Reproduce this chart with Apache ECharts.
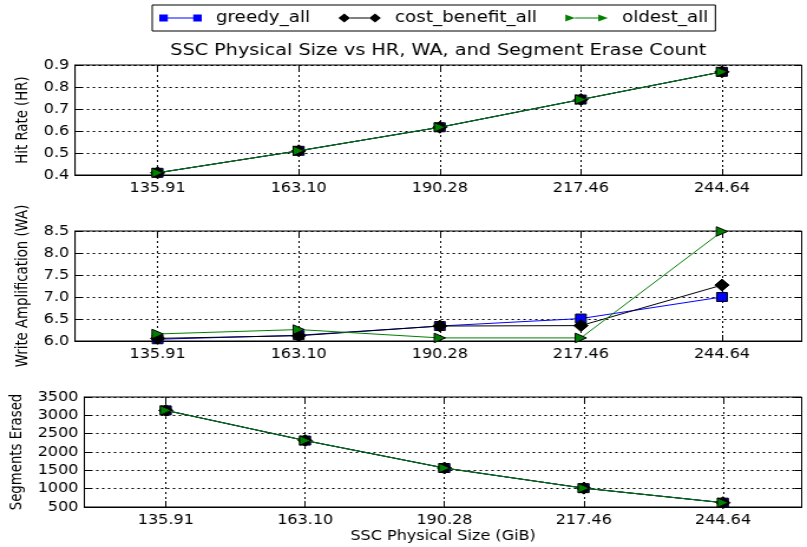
<!DOCTYPE html>
<html>
<head>
<meta charset="utf-8">
<script src="https://cdn.jsdelivr.net/npm/echarts@6/dist/echarts.min.js"></script>
<style>
  html, body { margin: 0; padding: 0; background: #fff; overflow: hidden; }
  /* the figure is laid out on a narrower canvas and widened horizontally */
  #chart { width: 684px; height: 547px; transform: scaleX(1.17982); transform-origin: 0 0; }
</style>
</head>
<body>
<div id="chart"></div>
<script>
// SSC physical sizes (GiB) on the shared x axis
const sizes = [135.91, 163.10, 190.28, 217.46, 244.64];

const seriesNames = ['greedy_all', 'cost_benefit_all', 'oldest_all'];

// Hit rate
const hrGreedy = [0.41, 0.51, 0.617, 0.743, 0.869];
const hrCost   = [0.41, 0.51, 0.617, 0.743, 0.869];
const hrOldest = [0.41, 0.51, 0.617, 0.743, 0.869];

// Write amplification
const waGreedy = [6.04, 6.13, 6.34, 6.51, 7.0];
const waCost   = [6.06, 6.12, 6.34, 6.35, 7.27];
const waOldest = [6.16, 6.26, 6.07, 6.07, 8.49];

// Segments erased
const segGreedy = [3135, 2312, 1563, 1014, 618];
const segCost   = [3135, 2312, 1563, 1014, 618];
const segOldest = [3135, 2312, 1563, 1014, 618];

// y tick labels of each panel
const hrTicks  = [0.4, 0.5, 0.6, 0.7, 0.8, 0.9];
const waTicks  = [6.0, 6.5, 7.0, 7.5, 8.0, 8.5];
const segTicks = [500, 1000, 1500, 2000, 2500, 3000, 3500];

const FONT = 'DejaVu Sans';
const colors = ['#0000ff', '#000000', '#008000'];
const symbols = ['rect', 'diamond', 'path://M0,0L10,5L0,10Z'];
const symbolSizes = [9, 12, 9.5];
const legendIcons = [
  'path://M0,1H8V9H0Z M8,4.5H32V5.5H8Z M32,1H40V9H32Z',
  'path://M0,5L5.5,0L11,5L5.5,10Z M11,4.5H29V5.5H11Z M29,5L34.5,0L40,5L34.5,10Z',
  'path://M0,1L9,5L0,9Z M9,4.5H31V5.5H9Z M31,1L40,5L31,9Z'
];

const panels = [
  { name: 'Hit Rate (HR)', ticks: hrTicks, digits: 1, values: [hrGreedy, hrCost, hrOldest], top: 65, nameGap: 34 },
  { name: 'Write Amplification (WA)', ticks: waTicks, digits: 1, values: [waGreedy, waCost, waOldest], top: 231, nameGap: 34 },
  { name: 'Segments Erased', ticks: segTicks, digits: 0, values: [segGreedy, segCost, segOldest], top: 397, nameGap: 47 }
];

const grid = [], xAxis = [], yAxis = [], series = [];
const textBase = { fontFamily: FONT, color: '#000' };
const gridLine = { show: true, lineStyle: { color: '#000', width: 1, type: [2, 3] } };

panels.forEach((p, i) => {
  const yMin = p.ticks[0];
  const yMax = p.ticks[p.ticks.length - 1];
  const step = p.ticks[1] - p.ticks[0];

  grid.push({ left: 63.6, right: 4.5, top: p.top, height: 110, show: true,
              borderColor: '#000', borderWidth: 1, backgroundColor: 'transparent' });

  // bottom x axis with labels and grid lines
  xAxis.push({
    gridIndex: i, type: 'value', min: 120, max: 260, position: 'bottom',
    axisLine: { show: true, onZero: false, lineStyle: { color: '#000', width: 1 } },
    axisTick: { show: true, inside: true, length: 6, customValues: sizes, lineStyle: { color: '#000' } },
    axisLabel: { customValues: sizes, formatter: v => v.toFixed(2), margin: 6, fontSize: 13.6, ...textBase },
    splitLine: gridLine,
    name: i === panels.length - 1 ? 'SSC Physical Size (GiB)' : '',
    nameLocation: 'middle', nameGap: 22,
    nameTextStyle: { fontSize: 13.6, ...textBase }
  });
  // top x axis carrying only the inner ticks
  xAxis.push({
    gridIndex: i, type: 'value', min: 120, max: 260, position: 'top',
    axisLine: { show: false },
    axisTick: { show: true, inside: true, length: 6, customValues: sizes, lineStyle: { color: '#000' } },
    axisLabel: { show: false, customValues: sizes },
    splitLine: { show: false }
  });

  // left y axis with labels, name and grid lines
  yAxis.push({
    gridIndex: i, type: 'value', min: yMin, max: yMax, interval: step, position: 'left',
    axisLine: { show: true, onZero: false, lineStyle: { color: '#000', width: 1 } },
    axisTick: { show: true, inside: true, length: 6, lineStyle: { color: '#000' } },
    axisLabel: { formatter: v => v.toFixed(p.digits), margin: 5, fontSize: 13.6, ...textBase },
    splitLine: gridLine,
    name: p.name, nameLocation: 'middle', nameRotate: 90, nameGap: p.nameGap,
    nameTextStyle: { fontSize: 13.3, ...textBase }
  });
  // right y axis carrying only the inner ticks
  yAxis.push({
    gridIndex: i, type: 'value', min: yMin, max: yMax, interval: step, position: 'right',
    axisLine: { show: false },
    axisTick: { show: true, inside: true, length: 6, lineStyle: { color: '#000' } },
    axisLabel: { show: false },
    splitLine: { show: false }
  });

  seriesNames.forEach((name, k) => {
    series.push({
      name, type: 'line',
      xAxisIndex: 2 * i, yAxisIndex: 2 * i,
      data: sizes.map((x, j) => [x, p.values[k][j]]),
      symbol: symbols[k], symbolSize: symbolSizes[k],
      itemStyle: { color: colors[k], borderColor: '#000', borderWidth: 1 },
      lineStyle: { color: colors[k], width: 1 },
      z: 2 + k,
      animation: false
    });
  });
});

const chart = echarts.init(document.getElementById('chart'), null, { renderer: 'canvas' });
chart.setOption({
  backgroundColor: '#fff',
  animation: false,
  title: {
    text: 'SSC Physical Size vs HR, WA, and Segment Erase Count',
    left: 371.5, top: 43, textAlign: 'center', padding: 0,
    textStyle: { fontSize: 16.3, fontWeight: 'normal', ...textBase }
  },
  legend: {
    left: 129, top: 5, orient: 'horizontal',
    padding: [5, 6], itemGap: 24, itemWidth: 36, itemHeight: 9,
    borderColor: '#000', borderWidth: 1, backgroundColor: '#fff',
    textStyle: { fontSize: 15.5, padding: [0, 0, 0, 7], ...textBase },
    data: seriesNames.map((name, k) => ({
      name, icon: legendIcons[k],
      itemStyle: { color: colors[k], borderWidth: 0 }
    }))
  },
  grid, xAxis, yAxis, series
});
</script>
</body>
</html>
